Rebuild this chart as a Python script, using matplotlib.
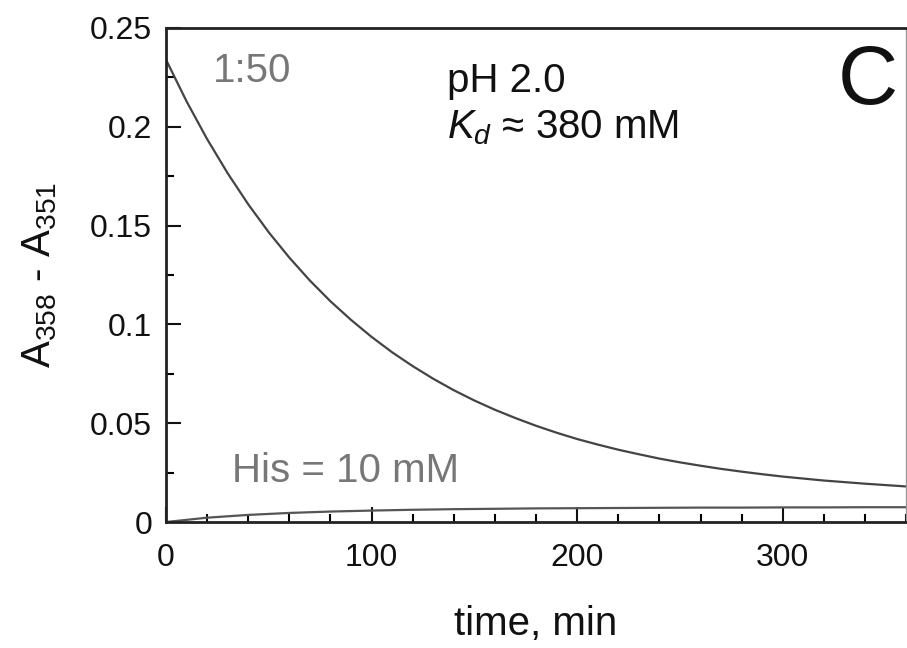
import matplotlib
matplotlib.use("Agg")
import matplotlib.pyplot as plt
from matplotlib.ticker import MultipleLocator, FixedLocator

plt.rcParams['font.family'] = ['Liberation Sans', 'DejaVu Sans']
plt.rcParams['mathtext.fontset'] = 'custom'
plt.rcParams['mathtext.rm'] = 'Liberation Sans'
plt.rcParams['mathtext.it'] = 'Liberation Sans:italic'

# --- data ---
t_upper = [0, 10, 20, 30, 40, 50, 60, 70, 80, 90, 100, 110, 120, 130, 140, 150,
           160, 170, 180, 190, 200, 210, 220, 230, 240, 250, 260, 270, 280, 290,
           300, 310, 320, 330, 340, 350, 360]
a_upper = [0.234, 0.2129, 0.1938, 0.1765, 0.1608, 0.1466, 0.1338, 0.1222, 0.1117,
           0.1023, 0.0937, 0.0859, 0.0789, 0.0725, 0.0667, 0.0615, 0.0568, 0.0526,
           0.0487, 0.0452, 0.0420, 0.0392, 0.0366, 0.0343, 0.0321, 0.0302, 0.0285,
           0.0269, 0.0255, 0.0242, 0.0230, 0.0220, 0.0210, 0.0202, 0.0194, 0.0187,
           0.0180]

t_lower = [0, 20, 40, 60, 80, 100, 120, 140, 160, 180, 200, 220, 240, 260, 280,
           300, 320, 340, 360]
a_lower = [0.0, 0.0022, 0.0036, 0.0046, 0.0053, 0.0058, 0.0062, 0.0065, 0.0067,
           0.0069, 0.0070, 0.0071, 0.0072, 0.0073, 0.0073, 0.0074, 0.0074, 0.0075,
           0.0075]

x_ticks = [0, 100, 200, 300]
x_tick_labels = ['0', '100', '200', '300']
y_ticks = [0, 0.05, 0.1, 0.15, 0.2, 0.25]
y_tick_labels = ['0', '0.05', '0.1', '0.15', '0.2', '0.25']

fig = plt.figure(figsize=(9.07, 6.48), dpi=100)
ax = fig.add_axes([0.183, 0.1944, 0.816, 0.7624])

ax.plot(t_upper, a_upper, color='#444444', lw=1.6)
ax.plot(t_lower, a_lower, color='#555555', lw=1.6)

ax.set_xlim(0, 360)
ax.set_ylim(0, 0.25)
ax.xaxis.set_major_locator(FixedLocator(x_ticks))
ax.set_xticklabels(x_tick_labels)
ax.yaxis.set_major_locator(FixedLocator(y_ticks))
ax.set_yticklabels(y_tick_labels)
ax.xaxis.set_minor_locator(MultipleLocator(20))
ax.yaxis.set_minor_locator(MultipleLocator(0.025))

ax.tick_params(which='major', direction='in', length=11, width=1.5,
               labelsize=23, pad=10, colors='#111111')
ax.tick_params(axis='x', which='major', pad=15)
ax.tick_params(which='minor', direction='in', length=6, width=1.5)
ax.tick_params(top=False, right=False, which='both')

for s in ['left', 'bottom', 'top']:
    ax.spines[s].set_linewidth(2)
    ax.spines[s].set_color('#222222')
ax.spines['right'].set_linewidth(1)
ax.spines['right'].set_color('#999999')

ax.set_xlabel('time, min', fontsize=29, labelpad=23, color='#111111')
ax.set_ylabel(r'$\mathrm{A}_{358}$ - $\mathrm{A}_{351}$', fontsize=29,
              labelpad=22, color='#111111')

ax.text(0.0635, 0.891, '1:50', transform=ax.transAxes, fontsize=29,
        color='#777777', ha='left', va='baseline')
ax.text(0.380, 0.870, 'pH 2.0', transform=ax.transAxes, fontsize=29,
        color='#111111', ha='left', va='baseline')
ax.text(0.380, 0.777, r'$K_d$ ≈ 380 mM', transform=ax.transAxes, fontsize=29,
        color='#111111', ha='left', va='baseline')
ax.text(0.908, 0.846, 'C', transform=ax.transAxes, fontsize=60,
        color='#111111', ha='left', va='baseline')
ax.text(0.089, 0.081, 'His = 10 mM', transform=ax.transAxes, fontsize=29,
        color='#777777', ha='left', va='baseline')

fig.savefig('out.png', dpi=100)
